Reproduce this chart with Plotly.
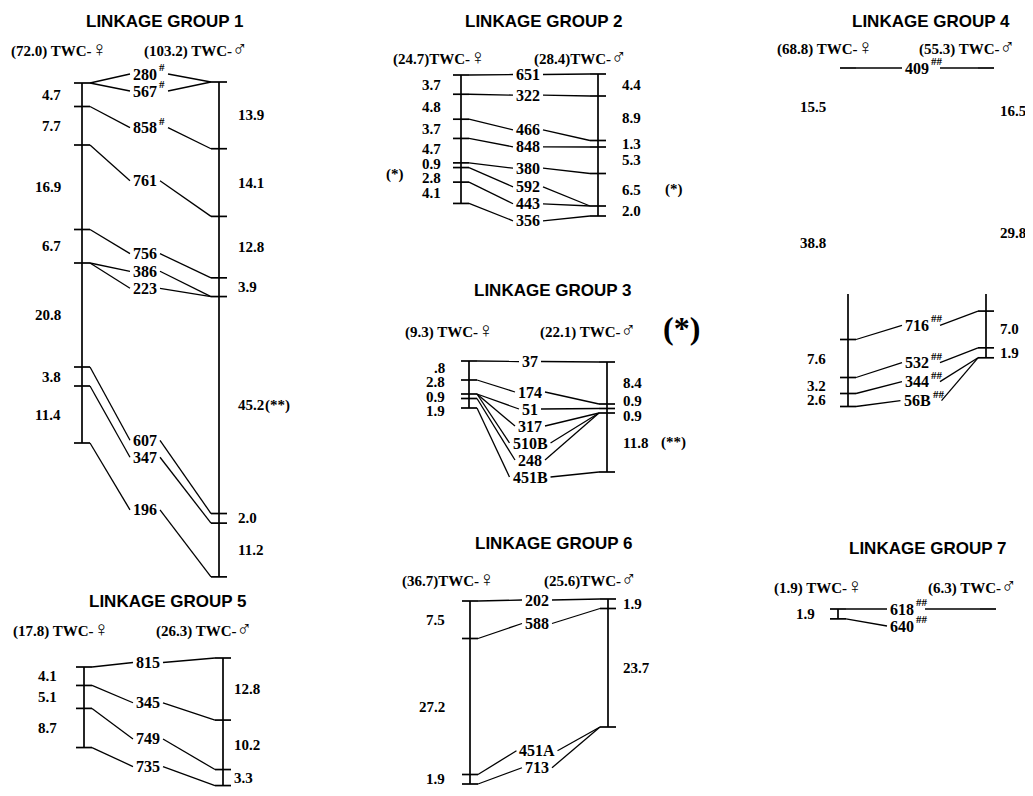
import plotly.graph_objects as go

# ====================== DATA ======================
# Linkage group 1
LG1_TOTALS = ["72.0", "103.2"]
LG1_MARKERS = ["280", "567", "858", "761", "756", "386", "223", "607", "347", "196"]
LG1_FEMALE_LOCI = [["280", "567"], ["858"], ["761"], ["756"], ["386", "223"], ["607"], ["347"], ["196"]]
LG1_FEMALE_CM = [4.7, 7.7, 16.9, 6.7, 20.8, 3.8, 11.4]
LG1_MALE_LOCI = [["280", "567"], ["858"], ["761"], ["756"], ["386", "223"], ["607"], ["347"], ["196"]]
LG1_MALE_CM = [13.9, 14.1, 12.8, 3.9, 45.2, 2.0, 11.2]
LG1_FLAGS = {"280": "#", "567": "#", "858": "#"}

# Linkage group 2
LG2_TOTALS = ["24.7", "28.4"]
LG2_MARKERS = ["651", "322", "466", "848", "380", "592", "443", "356"]
LG2_FEMALE_LOCI = [["651"], ["322"], ["466"], ["848"], ["380"], ["592"], ["443"], ["356"]]
LG2_FEMALE_CM = [3.7, 4.8, 3.7, 4.7, 0.9, 2.8, 4.1]
LG2_MALE_LOCI = [["651"], ["322"], ["466"], ["848"], ["380"], ["592", "443"], ["356"]]
LG2_MALE_CM = [4.4, 8.9, 1.3, 5.3, 6.5, 2.0]

# Linkage group 3
LG3_TOTALS = ["9.3", "22.1"]
LG3_MARKERS = ["37", "174", "51", "317", "510B", "248", "451B"]
LG3_FEMALE_LOCI = [["37"], ["174"], ["51", "317", "510B"], ["248"], ["451B"]]
LG3_FEMALE_CM = [3.8, 2.8, 0.9, 1.9]
LG3_FEMALE_CM_PRINTED = [".8", "2.8", "0.9", "1.9"]   # first digit lost in the print
LG3_MALE_LOCI = [["37"], ["174"], ["51"], ["317", "510B", "248"], ["451B"]]
LG3_MALE_CM = [8.4, 0.9, 0.9, 11.8]

# Linkage group 4
LG4_TOTALS = ["68.8", "55.3"]
LG4_MARKERS = ["409", "716", "532", "344", "56B"]
LG4_FEMALE_LOCI = [["409"], [], ["716"], ["532"], ["344"], ["56B"]]
LG4_FEMALE_CM = [15.5, 38.8, 7.6, 3.2, 2.6]
LG4_MALE_LOCI = [["409"], [], ["716"], ["532"], ["344", "56B"]]
LG4_MALE_CM = [16.5, 29.8, 7.0, 1.9]
LG4_FLAGS = {"409": "##", "716": "##", "532": "##", "344": "##", "56B": "##"}

# Linkage group 5
LG5_TOTALS = ["17.8", "26.3"]
LG5_MARKERS = ["815", "345", "749", "735"]
LG5_FEMALE_LOCI = [["815"], ["345"], ["749"], ["735"]]
LG5_FEMALE_CM = [4.1, 5.1, 8.7]
LG5_MALE_LOCI = [["815"], ["345"], ["749"], ["735"]]
LG5_MALE_CM = [12.8, 10.2, 3.3]

# Linkage group 6
LG6_TOTALS = ["36.7", "25.6"]
LG6_MARKERS = ["202", "588", "451A", "713"]
LG6_FEMALE_LOCI = [["202"], ["588"], ["451A"], ["713"]]
LG6_FEMALE_CM = [7.5, 27.2, 1.9]
LG6_MALE_LOCI = [["202"], ["588"], ["451A", "713"]]
LG6_MALE_CM = [1.9, 23.7]

# Linkage group 7 (male map truncated in the original)
LG7_TOTALS = ["1.9", "6.3"]
LG7_MARKERS = ["618", "640"]
LG7_FEMALE_LOCI = [["618"], ["640"]]
LG7_FEMALE_CM = [1.9]
LG7_MALE_LOCI = [["618"]]
LG7_MALE_CM = []
LG7_FLAGS = {"618": "##", "640": "##"}

# significance notes next to interval labels: (group, sex, interval index, text)
NOTES = [(1, "m", 4, "(**)"), (2, "f", 5, "(*)"), (2, "m", 4, "(*)"), (3, "m", 3, "(**)")]

# ====================== LAYOUT / STYLE ======================
SERIF = "Liberation Serif, Times New Roman, serif"
SANS = "Liberation Sans, Arial, sans-serif"
LABEL_SIZE = 16
INT_SIZE = 15
HEAD_SIZE = 15
TITLE_SIZE = 17
SYMBOL_SIZE = 21
FLAG_SIZE = 11

PLACE = {
    1: dict(fx=82, mx=219, fy0=83, my0=82, fs=5.0, ms=4.8, lx=145, ty=21, hy=49, sep=" ", fgap=20, mgap=18, w=0.5),
    2: dict(fx=461, mx=598, fy0=75, my0=74, fs=5.2, ms=5.0, lx=528, ty=21, hy=57, sep="", fgap=19, mgap=23, w=0.5),
    3: dict(fx=469, mx=607, fy0=361, my0=362, fs=5.0, ms=5.0, lx=530, ty=290, hy=330, sep=" ", fgap=23, mgap=15, w=0.5),
    4: dict(fx=848, mx=986, fy0=68, my0=68, fs=5.0, ms=5.25, lx=917, ty=21, hy=47, sep=" ", fgap=21, mgap=13, w=0.5, bar_from=294),
    5: dict(fx=84, mx=223, fy0=667, my0=658, fs=4.5, ms=4.85, lx=148, ty=601, hy=629, sep=" ", fgap=26, mgap=10, w=0.5),
    6: dict(fx=470, mx=608, fy0=601, my0=599, fs=5.0, ms=5.0, lx=537, ty=543, hy=579, sep="", fgap=24, mgap=14, w=0.5),
    7: dict(fx=838, mx=988, fy0=609, my0=609, fs=5.2, ms=5.0, lx=902, ty=548, hy=586, sep=" ", fgap=22, mgap=14, w=0.5),
}
LABEL_GAP = {1: 17, 2: 17, 3: 17, 4: 19, 5: 17, 6: 17, 7: 17}

GROUPS = {
    1: dict(tot=LG1_TOTALS, markers=LG1_MARKERS, floci=LG1_FEMALE_LOCI, fcm=LG1_FEMALE_CM,
            mloci=LG1_MALE_LOCI, mcm=LG1_MALE_CM, flags=LG1_FLAGS),
    2: dict(tot=LG2_TOTALS, markers=LG2_MARKERS, floci=LG2_FEMALE_LOCI, fcm=LG2_FEMALE_CM,
            mloci=LG2_MALE_LOCI, mcm=LG2_MALE_CM, flags={}),
    3: dict(tot=LG3_TOTALS, markers=LG3_MARKERS, floci=LG3_FEMALE_LOCI, fcm=LG3_FEMALE_CM,
            mloci=LG3_MALE_LOCI, mcm=LG3_MALE_CM, flags={}, ftext=LG3_FEMALE_CM_PRINTED),
    4: dict(tot=LG4_TOTALS, markers=LG4_MARKERS, floci=LG4_FEMALE_LOCI, fcm=LG4_FEMALE_CM,
            mloci=LG4_MALE_LOCI, mcm=LG4_MALE_CM, flags=LG4_FLAGS),
    5: dict(tot=LG5_TOTALS, markers=LG5_MARKERS, floci=LG5_FEMALE_LOCI, fcm=LG5_FEMALE_CM,
            mloci=LG5_MALE_LOCI, mcm=LG5_MALE_CM, flags={}),
    6: dict(tot=LG6_TOTALS, markers=LG6_MARKERS, floci=LG6_FEMALE_LOCI, fcm=LG6_FEMALE_CM,
            mloci=LG6_MALE_LOCI, mcm=LG6_MALE_CM, flags={}),
    7: dict(tot=LG7_TOTALS, markers=LG7_MARKERS, floci=LG7_FEMALE_LOCI, fcm=LG7_FEMALE_CM,
            mloci=LG7_MALE_LOCI, mcm=LG7_MALE_CM, flags=LG7_FLAGS),
}


# ====================== HELPERS ======================
def cumulative(vals):
    out = [0.0]
    for v in vals:
        out.append(out[-1] + v)
    return out


def locate(loci, cms, y0, scale):
    c = cumulative(cms)
    pos, ys = {}, []
    for i, names in enumerate(loci):
        y = y0 + c[i] * scale
        ys.append(y)
        for n in names:
            pos[n] = y
    return pos, ys


def text_width(s, size):
    w = 0.0
    for ch in s:
        if ch.isdigit():
            w += 0.5
        elif ch == ".":
            w += 0.25
        elif ch in "AB":
            w += 0.69
        elif ch in "()-":
            w += 0.33
        else:
            w += 0.5
    return w * size


def spread_forward(desired, gap):
    out = list(desired)
    n = len(out)
    i = 0
    while i < n:
        j = i
        while j + 1 < n and abs(desired[j + 1] - desired[i]) < 1e-6:
            j += 1
        k = j - i + 1
        if k > 1:
            for t in range(k):
                out[i + t] = desired[i] + (t - (k - 1) / 2.0) * gap
        i = j + 1
    for i in range(1, n):
        if out[i] < out[i - 1] + gap:
            out[i] = out[i - 1] + gap
    return out


def spread_centered(desired, gap):
    clusters = []

    def base(ds):
        return sum(d - k * gap for k, d in enumerate(ds)) / len(ds)

    for d in desired:
        clusters.append([d])
        while len(clusters) > 1:
            a, b = clusters[-2], clusters[-1]
            end_a = base(a) + (len(a) - 1) * gap
            if base(b) < end_a + gap - 1e-9:
                clusters[-2:] = [a + b]
            else:
                break
    out = []
    for ds in clusters:
        b0 = base(ds)
        out += [b0 + k * gap for k in range(len(ds))]
    return out


# ====================== BUILD ======================
conn_x, conn_y = [], []
bar_x, bar_y = [], []
ann = []


def seg(xs, ys, x0, y0, x1, y1):
    xs += [x0, x1, None]
    ys += [y0, y1, None]


def txt(x, y, s, size, family=SERIF, xa="center", ya="middle", bold=True):
    ann.append(dict(x=x, y=y, xref="x", yref="y", text=("<b>%s</b>" % s) if bold else s,
                    showarrow=False, xanchor=xa, yanchor=ya, borderpad=0,
                    font=dict(family=family, size=size, color="black")))


def sym(ch):
    return "<span style='font-size:%dpx;font-weight:normal'>%s</span>" % (SYMBOL_SIZE, ch)


for num, g in GROUPS.items():
    p = PLACE[num]
    fx, mx, lx = p["fx"], p["mx"], p["lx"]
    fpos, fys = locate(g["floci"], g["fcm"], p["fy0"], p["fs"])
    mpos, mys = locate(g["mloci"], g["mcm"], p["my0"], p["ms"])

    # chromosome bars
    clip = p.get("bar_from")
    for x, ys in ((fx, fys), (mx, mys)):
        if len(ys) >= 2:
            y1 = ys[0] if clip is None else max(ys[0], clip)
            seg(bar_x, bar_y, x, y1, x, ys[-1])
    # ticks
    for loci, ys, x in ((g["floci"], fys, fx), (g["mloci"], mys, mx)):
        for names, y in zip(loci, ys):
            if names:
                seg(bar_x, bar_y, x - 8, y, x + 8, y)

    # marker labels + connectors
    desired = []
    for m in g["markers"]:
        fy, my = fpos.get(m), mpos.get(m)
        if fy is not None and my is not None:
            desired.append(fy + p["w"] * (my - fy))
        else:
            desired.append(fy if fy is not None else my)
    lys = spread_forward(desired, LABEL_GAP[num])
    for m, ly in zip(g["markers"], lys):
        half = text_width(m, LABEL_SIZE) / 2.0
        txt(lx, ly, m, LABEL_SIZE)
        flag = g["flags"].get(m)
        if flag:
            txt(lx + half + 1, ly - 7, flag, FLAG_SIZE, xa="left")
        fy, my = fpos.get(m), mpos.get(m)
        if fy is not None:
            seg(conn_x, conn_y, fx + 8, fy, lx - half - 3, ly)
        if my is not None:
            seg(conn_x, conn_y, lx + half + 3 + (8 if flag else 0), ly, mx - 8, my)

    # interval (cM) labels
    for sex, ys, cms, x in (("f", fys, g["fcm"], fx - p["fgap"]), ("m", mys, g["mcm"], mx + p["mgap"])):
        mids = [(a + b) / 2.0 for a, b in zip(ys[:-1], ys[1:])]
        pos = spread_centered(mids, 14.5)
        for i, (v, y) in enumerate(zip(cms, pos)):
            s = g["ftext"][i] if (sex == "f" and "ftext" in g) else "%.1f" % v
            if sex == "f":
                txt(x, y, s, INT_SIZE, xa="right")
            else:
                txt(x, y, s, INT_SIZE, xa="left")
            for (gn, sx, idx, note) in NOTES:
                if gn == num and sx == sex and idx == i:
                    wdt = text_width(s, INT_SIZE)
                    if sex == "m":
                        gapn = 1 if num == 1 else (12 if num == 3 else 24)
                        txt(x + wdt + gapn, y, note, INT_SIZE, xa="left")
                    else:
                        txt(x - wdt - 18, y - 4, note, INT_SIZE, xa="right")

    # title and headers
    txt((fx + mx) / 2.0 + 14, p["ty"], "LINKAGE GROUP %d" % num, TITLE_SIZE, family=SANS)
    txt(fx + 26, p["hy"], "(%s)%sTWC-%s" % (g["tot"][0], p["sep"], sym("\u2640")), HEAD_SIZE, xa="right")
    txt(mx + 30, p["hy"], "(%s)%sTWC-%s" % (g["tot"][1], p["sep"], sym("\u2642")), HEAD_SIZE, xa="right")
    if num == 3:
        txt(mx + 74, p["hy"] - 2, "(*)", 32)

fig = go.Figure()
fig.add_trace(go.Scatter(x=bar_x, y=bar_y, mode="lines", line=dict(color="black", width=1.7),
                         hoverinfo="skip", showlegend=False))
fig.add_trace(go.Scatter(x=conn_x, y=conn_y, mode="lines", line=dict(color="black", width=1.3),
                         hoverinfo="skip", showlegend=False))

# page body keeps its default 8px margin: the 1017x780 figure sits at (8, 8)
fig.update_layout(
    width=1017, height=780, autosize=False,
    margin=dict(l=0, r=0, t=0, b=0, pad=0),
    paper_bgcolor="white", plot_bgcolor="white",
    xaxis=dict(range=[8, 1025], visible=False, fixedrange=True),
    yaxis=dict(range=[788, 8], visible=False, fixedrange=True),
    annotations=ann, showlegend=False,
)
fig.write_html("out.html")
